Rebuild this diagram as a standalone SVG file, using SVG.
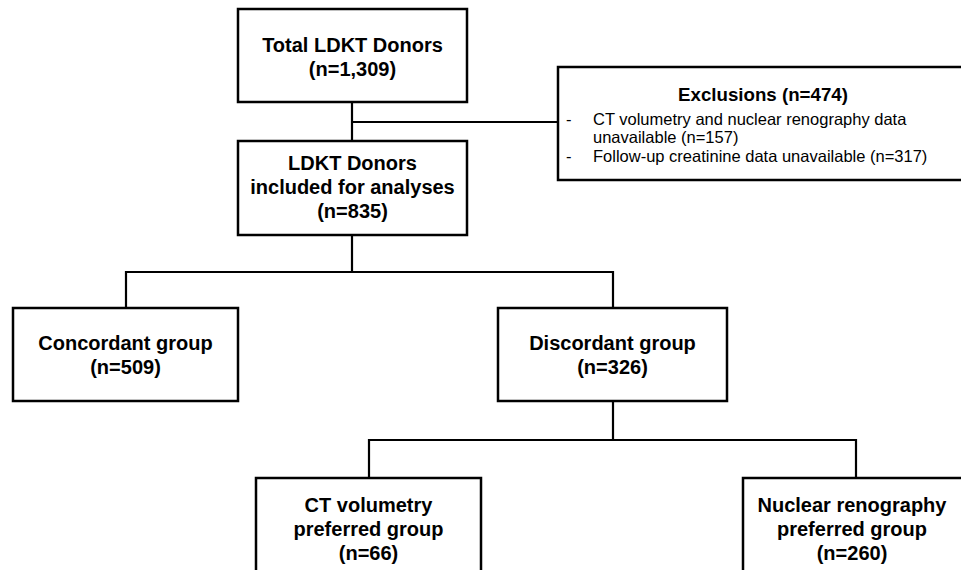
<svg xmlns="http://www.w3.org/2000/svg" width="961" height="570" viewBox="0 0 961 570">
<style>
.box{fill:#fff;stroke:#000;stroke-width:2.5}
.ln{fill:none;stroke:#000;stroke-width:2.2}
.b{font-family:"Liberation Sans",Arial,sans-serif;font-weight:bold;font-size:20px;fill:#000;text-anchor:middle}
.t{font-family:"Liberation Sans",Arial,sans-serif;font-size:16.5px;fill:#000}
</style>
<rect width="961" height="570" fill="#fff"/>
<g id="connectors">
<path class="ln" d="M352,102 V141 M352,122 H558"/>
<path class="ln" d="M352,235 V272 M126,308 V272 H613 V308"/>
<path class="ln" d="M613,401 V440 M369,478 V440 H856 V478"/>
</g>
<g id="total">
<rect class="box" x="238" y="9" width="229" height="93"/>
<text class="b" x="352.5" y="52">Total LDKT Donors</text>
<text class="b" x="352.5" y="76">(n=1,309)</text>
</g>
<g id="exclusions">
<rect class="box" x="558" y="67" width="420" height="113"/>
<text class="b" x="763" y="101" style="font-size:18.7px">Exclusions (n=474)</text>
<text class="t" x="566" y="125">-</text>
<text class="t" x="593" y="125">CT volumetry and nuclear renography data</text>
<text class="t" x="593" y="143">unavailable (n=157)</text>
<text class="t" x="566" y="162">-</text>
<text class="t" x="593" y="162">Follow-up creatinine data unavailable (n=317)</text>
</g>
<g id="included">
<rect class="box" x="238" y="141" width="229" height="94"/>
<text class="b" x="352.5" y="170">LDKT Donors</text>
<text class="b" x="352.5" y="194">included for analyses</text>
<text class="b" x="352.5" y="218">(n=835)</text>
</g>
<g id="concordant">
<rect class="box" x="13" y="308" width="225" height="93"/>
<text class="b" x="125.5" y="350">Concordant group</text>
<text class="b" x="125.5" y="374">(n=509)</text>
</g>
<g id="discordant">
<rect class="box" x="498" y="308" width="229" height="93"/>
<text class="b" x="612.5" y="350">Discordant group</text>
<text class="b" x="612.5" y="374">(n=326)</text>
</g>
<g id="ct">
<rect class="box" x="256" y="478" width="225" height="110"/>
<text class="b" x="368.5" y="512">CT volumetry</text>
<text class="b" x="368.5" y="536">preferred group</text>
<text class="b" x="368.5" y="560">(n=66)</text>
</g>
<g id="nuclear">
<rect class="box" x="743" y="478" width="240" height="110"/>
<text class="b" x="852" y="512">Nuclear renography</text>
<text class="b" x="852" y="536">preferred group</text>
<text class="b" x="852" y="560">(n=260)</text>
</g>
</svg>
